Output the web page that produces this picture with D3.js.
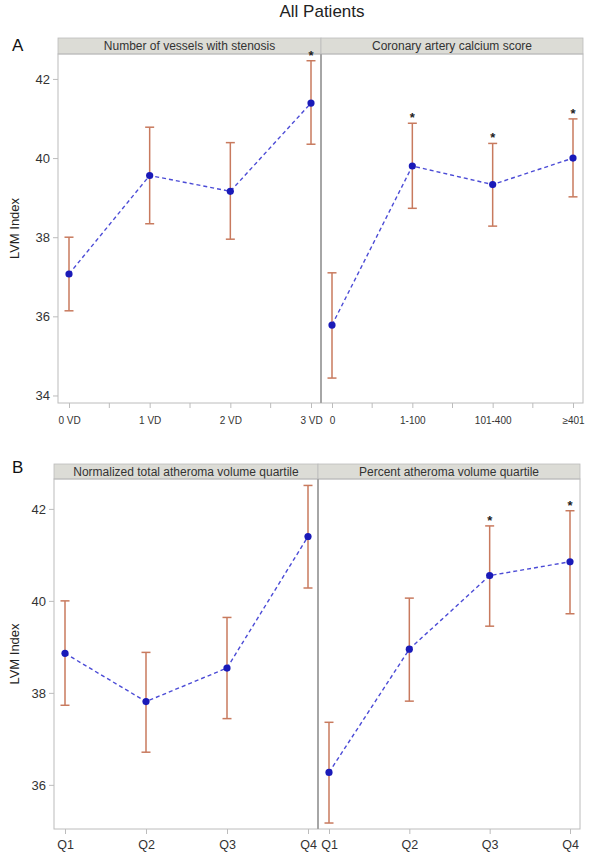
<!DOCTYPE html>
<html>
<head>
<meta charset="utf-8">
<script src="https://cdn.jsdelivr.net/npm/d3@7"></script>
<style>
  html, body { margin: 0; padding: 0; background: #fff; }
  svg { display: block; font-family: "Liberation Sans", Arial, sans-serif; }
</style>
</head>
<body>
<svg id="chart" width="590" height="852"></svg>
<script>
// ---- Data ----
const titleText = "All Patients";
const yLabel = "LVM Index";

// Panel A, left: Number of vessels with stenosis
const vesselCats  = ["0 VD", "1 VD", "2 VD", "3 VD"];
const vesselMean  = [37.07, 39.56, 39.16, 41.39];
const vesselLower = [36.14, 38.34, 37.95, 40.35];
const vesselUpper = [38.00, 40.78, 40.39, 42.46];
const vesselSig   = [false, false, false, true];

// Panel A, right: Coronary artery calcium score
const cacCats  = ["0", "1-100", "101-400", "\u2265401"];
const cacMean  = [35.78, 39.80, 39.33, 40.00];
const cacLower = [34.44, 38.73, 38.28, 39.02];
const cacUpper = [37.10, 40.88, 40.37, 40.99];
const cacSig   = [false, true, true, true];

// Panel B, left: Normalized total atheroma volume quartile
const tavCats  = ["Q1", "Q2", "Q3", "Q4"];
const tavMean  = [38.86, 37.81, 38.54, 41.40];
const tavLower = [37.73, 36.71, 37.44, 40.28];
const tavUpper = [40.00, 38.88, 39.64, 42.51];
const tavSig   = [false, false, false, false];

// Panel B, right: Percent atheroma volume quartile
const pavCats  = ["Q1", "Q2", "Q3", "Q4"];
const pavMean  = [36.27, 38.95, 40.55, 40.85];
const pavLower = [35.17, 37.82, 39.45, 39.72];
const pavUpper = [37.36, 40.06, 41.63, 41.96];
const pavSig   = [false, false, true, true];

const yTicksA = [34, 36, 38, 40, 42];
const yTicksB = [36, 38, 40, 42];
const yDomainA = [33.81, 42.63];
const yDomainB = [35.04, 42.65];

// ---- Styles ----
const colFrame = "#bcbcbc";
const colDivider = "#a6a6a6";
const colHeader = "#dcdcd6";
const colText = "#333";
const colErr = "#c87a5e";
const colLine = "#4b4bd6";
const colPoint = "#1a1ab8";

const svg = d3.select("#chart");

svg.append("text").attr("x", 322).attr("y", 17)
  .attr("text-anchor", "middle").attr("font-size", 17).attr("fill", "#222")
  .text(titleText);

function drawPanel(opt) {
  const g = svg.append("g");
  const { left, mid, right, headTop, plotTop, plotBottom } = opt;
  const y = d3.scaleLinear().domain(opt.yDomain).range([plotBottom, plotTop]);

  // panel letter
  g.append("text").attr("x", 12).attr("y", opt.letterY)
    .attr("font-size", 17).attr("fill", "#111").text(opt.letter);

  // headers
  [[left, mid, opt.sub[0].title], [mid, right, opt.sub[1].title]].forEach(([a, b, t]) => {
    g.append("rect").attr("x", a).attr("y", headTop).attr("width", b - a)
      .attr("height", plotTop - headTop).attr("fill", colHeader)
      .attr("stroke", colFrame).attr("stroke-width", 0.8);
    g.append("text").attr("x", (a + b) / 2).attr("y", headTop + (plotTop - headTop) / 2 + 4.3)
      .attr("text-anchor", "middle").attr("font-size", 12).attr("fill", colText).text(t);
  });

  // frame
  g.append("rect").attr("x", left).attr("y", plotTop).attr("width", right - left)
    .attr("height", plotBottom - plotTop).attr("fill", "none")
    .attr("stroke", colFrame).attr("stroke-width", 1);
  g.append("line").attr("x1", mid).attr("x2", mid).attr("y1", plotTop).attr("y2", plotBottom)
    .attr("stroke", colDivider).attr("stroke-width", 2);

  // y axis
  const yAxis = d3.axisLeft(y).tickValues(opt.yTicks).tickSize(5).tickPadding(3)
    .tickFormat(d3.format("d"));
  const ya = g.append("g").attr("transform", `translate(${left},0)`).call(yAxis);
  ya.select(".domain").remove();
  ya.selectAll(".tick line").attr("stroke", colFrame);
  ya.selectAll(".tick text").attr("font-size", 13).attr("fill", colText)
    .attr("font-family", "Liberation Sans, Arial, sans-serif");

  g.append("text")
    .attr("transform", `translate(19,${(plotTop + plotBottom) / 2}) rotate(-90)`)
    .attr("text-anchor", "middle").attr("font-size", 13).attr("fill", "#222").text(yLabel);

  // subpanels
  [[left, mid, opt.sub[0]], [mid, right, opt.sub[1]]].forEach(([a, b, s]) => {
    const x = d3.scalePoint().domain(s.cats).range([a + 11, b - 10]);
    const xAxis = d3.axisBottom(x).tickSize(5).tickPadding(opt.xPad);
    const xa = g.append("g").attr("transform", `translate(0,${plotBottom})`).call(xAxis);
    xa.select(".domain").remove();
    xa.selectAll(".tick line").attr("stroke", colFrame);
    xa.selectAll(".tick text").attr("font-size", opt.xFont).attr("fill", colText)
      .attr("font-family", "Liberation Sans, Arial, sans-serif");
    if (opt.minor) {
      for (let i = 0; i < s.cats.length - 1; i++) {
        const mx = (x(s.cats[i]) + x(s.cats[i + 1])) / 2;
        g.append("line").attr("x1", mx).attr("x2", mx)
          .attr("y1", plotBottom).attr("y2", plotBottom + 5).attr("stroke", colFrame);
      }
    }

    const rows = s.cats.map((c, i) => ({ c, m: s.mean[i], lo: s.lower[i], hi: s.upper[i], sig: s.sig[i] }));

    // error bars
    const eb = g.append("g").attr("stroke", colErr).attr("stroke-width", 1.5);
    rows.forEach(r => {
      const cx = x(r.c);
      eb.append("line").attr("x1", cx).attr("x2", cx).attr("y1", y(r.lo)).attr("y2", y(r.hi));
      eb.append("line").attr("x1", cx - 4.5).attr("x2", cx + 4.5).attr("y1", y(r.lo)).attr("y2", y(r.lo));
      eb.append("line").attr("x1", cx - 4.5).attr("x2", cx + 4.5).attr("y1", y(r.hi)).attr("y2", y(r.hi));
    });

    // dashed line
    g.append("path").datum(rows)
      .attr("d", d3.line().x(r => x(r.c)).y(r => y(r.m)))
      .attr("fill", "none").attr("stroke", colLine).attr("stroke-width", 1.4)
      .attr("stroke-dasharray", "4,3");

    // points
    g.selectAll(null).data(rows).enter().append("circle")
      .attr("cx", r => x(r.c)).attr("cy", r => y(r.m)).attr("r", 3.6)
      .attr("fill", colPoint);

    // significance stars
    g.selectAll(null).data(rows.filter(r => r.sig)).enter().append("text")
      .attr("x", r => x(r.c)).attr("y", r => y(r.hi) - 1)
      .attr("text-anchor", "middle").attr("font-size", 13).attr("font-weight", "bold")
      .attr("fill", "#222").text("*");
  });
}

drawPanel({
  letter: "A", letterY: 51,
  left: 58, mid: 321, right: 583,
  headTop: 38, plotTop: 54, plotBottom: 403,
  yDomain: yDomainA, yTicks: yTicksA,
  xFont: 10, xPad: 9, minor: true,
  sub: [
    { title: "Number of vessels with stenosis", cats: vesselCats, mean: vesselMean, lower: vesselLower, upper: vesselUpper, sig: vesselSig },
    { title: "Coronary artery calcium score", cats: cacCats, mean: cacMean, lower: cacLower, upper: cacUpper, sig: cacSig }
  ]
});

drawPanel({
  letter: "B", letterY: 473,
  left: 54, mid: 318, right: 580,
  headTop: 464, plotTop: 479, plotBottom: 829,
  yDomain: yDomainB, yTicks: yTicksB,
  xFont: 12.5, xPad: 6, minor: false,
  sub: [
    { title: "Normalized total atheroma volume quartile", cats: tavCats, mean: tavMean, lower: tavLower, upper: tavUpper, sig: tavSig },
    { title: "Percent atheroma volume quartile", cats: pavCats, mean: pavMean, lower: pavLower, upper: pavUpper, sig: pavSig }
  ]
});
</script>
</body>
</html>
